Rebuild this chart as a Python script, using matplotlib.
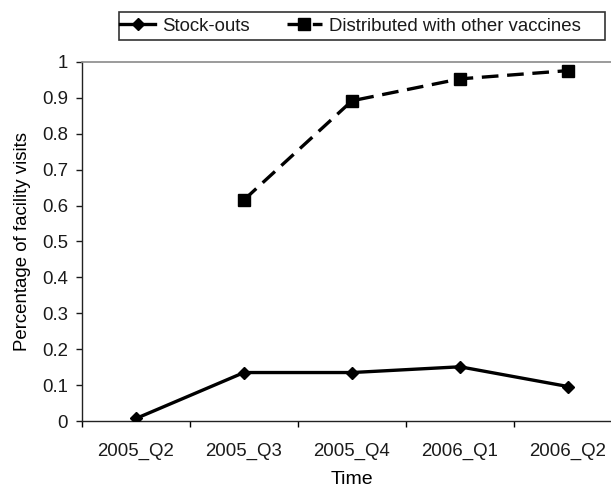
import numpy as np
import matplotlib.pyplot as plt
from matplotlib.patches import Rectangle

quarters = ["2005_Q2", "2005_Q3", "2005_Q4", "2006_Q1", "2006_Q2"]
stock_outs = [0.007, 0.135, 0.135, 0.151, 0.096]
distributed = [np.nan, 0.616, 0.892, 0.953, 0.976]
y_ticks = [0, 0.1, 0.2, 0.3, 0.4, 0.5, 0.6, 0.7, 0.8, 0.9, 1]
y_labels = ["0", "0.1", "0.2", "0.3", "0.4", "0.5", "0.6", "0.7", "0.8", "0.9", "1"]

plt.rcParams['font.family'] = ['Liberation Sans', 'DejaVu Sans']
plt.rcParams['font.size'] = 13.4
plt.rcParams['text.color'] = '#1a1a1a'

fig = plt.figure(figsize=(6.11, 4.9), dpi=100)
# plot area runs a bit past the right edge of the picture, like the source
ax = fig.add_axes([82 / 611, 69 / 490, 540 / 611, 359 / 490])

x = np.arange(len(quarters))
ax.plot(x, stock_outs, color='black', lw=2.4, marker='D', markersize=6,
        label="Stock-outs", zorder=3)
ax.plot(x, distributed, color='black', lw=2.4, marker='s', markersize=9,
        dashes=(5, 2.6), label="Distributed with other vaccines", zorder=3)

ax.set_xlim(-0.5, len(quarters) - 0.5)
ax.set_ylim(0, 1)
ax.set_yticks(y_ticks)
ax.set_yticklabels(y_labels)
ax.set_xticks(x)
ax.set_xticklabels(quarters)
ax.set_xticks(np.arange(len(quarters) + 1) - 0.5, minor=True)
ax.tick_params(axis='x', which='major', length=0, pad=16, colors='#1a1a1a')
ax.tick_params(axis='x', which='minor', length=4.5, width=1, direction='out')
ax.tick_params(axis='y', length=4.5, width=1, pad=5.5, colors='#1a1a1a')

for side in ['left', 'bottom']:
    ax.spines[side].set_color('#222222')
    ax.spines[side].set_linewidth(1)
ax.spines['right'].set_visible(False)
ax.spines['top'].set_color('#8a8a8a')
ax.spines['top'].set_linewidth(1.2)

ax.set_xlabel("Time", fontsize=14)
ax.set_ylabel("Percentage of facility visits")
ax.yaxis.set_label_coords(-0.095, 0.5)
ax.xaxis.set_label_coords(0.5, -0.138)

# legend without its own frame; the box is drawn separately to match the wide source box
leg = fig.legend(loc='center left', bbox_to_anchor=(120 / 611, 1 - 26 / 490),
                 ncol=2, frameon=False, handlelength=1.9,
                 handletextpad=0.35, columnspacing=2.0, borderpad=0,
                 borderaxespad=0)
fig.add_artist(Rectangle((119 / 611, 1 - 40 / 490), (605 - 119) / 611, 28 / 490,
                         transform=fig.transFigure, fill=False,
                         edgecolor='#333333', linewidth=1.2))

fig.savefig("out.png", dpi=100)
